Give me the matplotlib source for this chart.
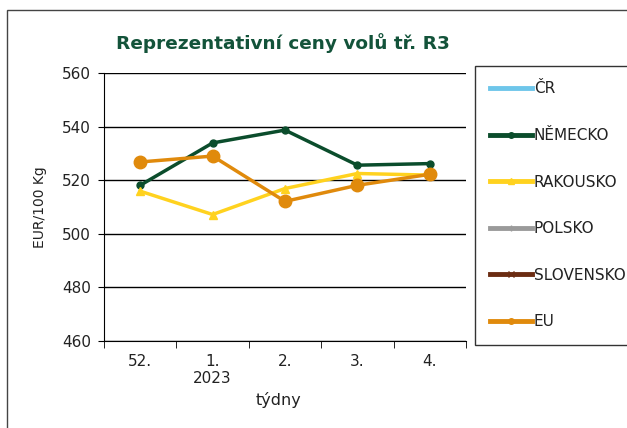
import matplotlib
matplotlib.use("Agg")
import matplotlib.pyplot as plt
import numpy as np
from matplotlib.patches import Rectangle
from matplotlib.lines import Line2D

categories = ["52.", "1.\n2023", "2.", "3.", "4."]
cr = [np.nan] * 5
nemecko = [518.1, 533.9, 538.7, 525.6, 526.2]
rakousko = [515.9, 507.2, 516.9, 522.5, 521.9]
polsko = [np.nan] * 5
slovensko = [np.nan] * 5
eu = [526.8, 529.0, 512.1, 518.1, 522.2]

series = [
    ("ČR", cr, "#6ec6ea", "_", 6),
    ("NĚMECKO", nemecko, "#0b4d2c", "o", 5),
    ("RAKOUSKO", rakousko, "#ffd21f", "^", 6),
    ("POLSKO", polsko, "#9a9a9a", "+", 6),
    ("SLOVENSKO", slovensko, "#6b2c12", "x", 6),
    ("EU", eu, "#e08a0c", "o", 9),
]

W, H = 627, 428
fig = plt.figure(figsize=(W / 100, H / 100), dpi=100)
fig.patch.set_facecolor("white")

# outer frame
fig.add_artist(Rectangle((7 / W, -0.05), 1.2, 1 - 10 / H + 0.05, transform=fig.transFigure,
                         fill=False, edgecolor="#444444", linewidth=1.0))

ax = fig.add_axes([104 / W, 1 - 341 / H, (466 - 104) / W, (341 - 73) / H])
x = np.arange(len(categories))

for name, vals, col, mk, ms in series:
    ax.plot(x, vals, color=col, marker=mk, markersize=ms, linewidth=2.5, label=name, zorder=3)

ax.set_xlim(-0.5, len(categories) - 0.5)
ax.set_ylim(460, 560)
ax.set_yticks(np.arange(460, 561, 20))
ax.yaxis.grid(True, color="black", linewidth=1.0, zorder=0)
ax.set_axisbelow(True)
for s in ["top", "right"]:
    ax.spines[s].set_visible(False)
ax.spines["left"].set_color("black")
ax.spines["bottom"].set_color("black")

ax.set_xticks(x)
ax.set_xticklabels(categories, fontsize=11, color="#222222")
ax.set_xticks(np.arange(-0.5, len(categories), 1), minor=True)
ax.tick_params(axis="x", which="major", length=0, pad=9)
ax.tick_params(axis="x", which="minor", length=5, direction="out", color="black")
ax.tick_params(axis="y", length=4.3, direction="out", labelsize=11, color="black", pad=5,
               labelcolor="#222222")
ax.set_xlabel("týdny", fontsize=11.5, color="#222222")
ax.xaxis.set_label_coords((278 - 104) / 362, -(392 - 341) / 268)
ax.set_ylabel("EUR/100 Kg", fontsize=10, color="#222222")
ax.yaxis.set_label_coords((47 - 104) / 362, 0.5)

fig.text(283 / W, 1 - 43 / H, "Reprezentativní ceny volů tř. R3", ha="center", va="center",
         fontsize=13.3, fontweight="bold", color="#13533a")

handles = [Line2D([0], [0], color=c, marker=m, markersize=4, linewidth=3.5) for _, _, c, m, _ in series]
labels = [s[0] for s in series]
leg = fig.legend(handles, labels, loc="upper left",
                 bbox_to_anchor=(475 / W, 1 - 345 / H, 0.4, (345 - 66) / H), mode="expand",
                 fontsize=11, frameon=True, fancybox=False, edgecolor="black",
                 labelspacing=2.07, handlelength=2.75, handletextpad=0.1,
                 borderpad=1.0, borderaxespad=0)
leg.get_frame().set_linewidth(1.0)
for t in leg.get_texts():
    t.set_color("#222222")

fig.savefig("out.png", dpi=100)
